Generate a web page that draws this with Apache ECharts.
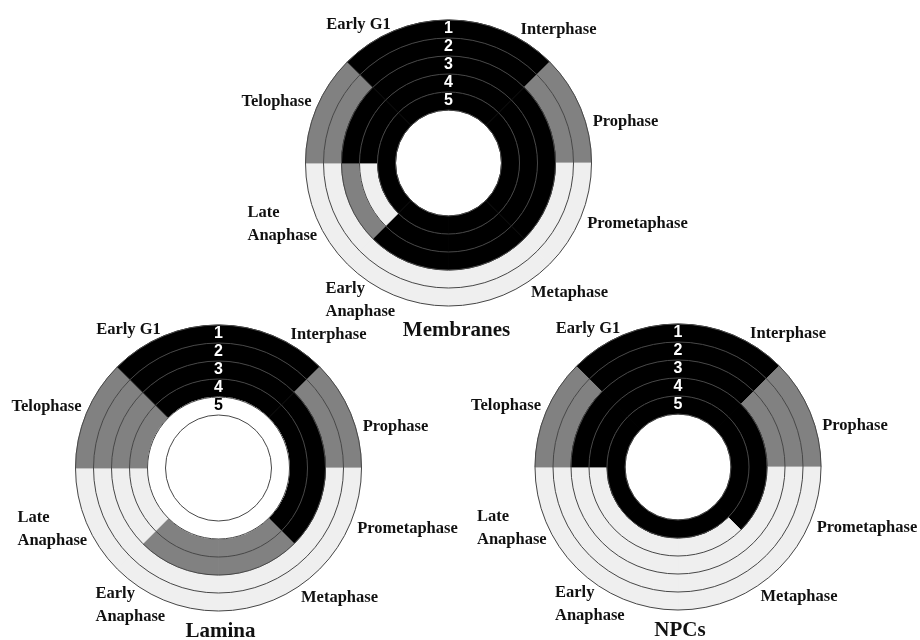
<!DOCTYPE html>
<html>
<head>
<meta charset="utf-8">
<script src="https://cdn.jsdelivr.net/npm/echarts@6/dist/echarts.min.js"></script>
<style>
  html, body { margin: 0; padding: 0; background: #ffffff; }
  #chart { width: 920px; height: 640px; }
</style>
</head>
<body>
<div id="chart"></div>
<script>
// Cell-cycle phases, clockwise from the top
const phases = ['Interphase', 'Prophase', 'Prometaphase', 'Metaphase',
                'Early Anaphase', 'Late Anaphase', 'Telophase', 'Early G1'];
// Ring numbers, outermost first
const rings = ['1', '2', '3', '4', '5'];

// One string per ring (outer to inner), one letter per phase in the order above.
// B = black, G = grey, L = light grey, N = unfilled
const membranes = ['BGLLLLGB', 'BGLLLLGB', 'BBBBBGBB', 'BBBBBLBB', 'BBBBBBBB'];
const lamina    = ['BGLLLLGB', 'BGLLLLGB', 'BBBGGLGB', 'BBBGGLGB', 'NNNNNNNN'];
const npcs      = ['BGLLLLGB', 'BGLLLLGB', 'BGLLLLBB', 'BBBLLLBB', 'BBBBBBBB'];

const titles = ['Membranes', 'Lamina', 'NPCs'];

// ---- layout ----
const panelCenters = [[448.5, 163], [218.5, 468], [678, 467]];
const titleOffsets = [[8, 168], [2, 164], [2, 164]];
const innerRadius = 53;
const outerRadius = 143;

const stateColor = { B: '#000000', G: '#818181', L: '#efefef', N: '#ffffff' };

// phase label placement relative to the panel centre
const phaseLabelLayout = {
  'Interphase':     { dx: 110,  dy: -133, align: 'center' },
  'Prophase':       { dx: 177,  dy: -41,  align: 'center' },
  'Prometaphase':   { dx: 189,  dy: 61,   align: 'center' },
  'Metaphase':      { dx: 121,  dy: 130,  align: 'center' },
  'Early Anaphase': { dx: -123, dy: 137,  align: 'left', text: 'Early\nAnaphase' },
  'Late Anaphase':  { dx: -201, dy: 61,   align: 'left', text: 'Late\nAnaphase' },
  'Telophase':      { dx: -172, dy: -61,  align: 'center' },
  'Early G1':       { dx: -90,  dy: -138, align: 'center' }
};

const panelStates = [membranes, lamina, npcs];

const polar = [], angleAxis = [], radiusAxis = [], series = [], graphic = [];

panelStates.forEach(function (states, p) {
  polar.push({ center: panelCenters[p], radius: [innerRadius, outerRadius] });

  angleAxis.push({
    polarIndex: p, type: 'value', min: 0, max: phases.length,
    startAngle: 90, clockwise: true,
    axisLine: { show: false }, axisTick: { show: false },
    axisLabel: { show: false }, splitLine: { show: false }
  });

  radiusAxis.push({
    polarIndex: p, type: 'category', data: rings, inverse: true, z: 5,
    axisLine: { show: false }, axisTick: { show: false },
    axisLabel: {
      show: true, margin: 0, align: 'center', verticalAlign: 'middle',
      fontFamily: '"Liberation Sans", Arial, sans-serif',
      fontWeight: 'bold', fontSize: 16,
      color: function (value, index) {
        return states[index][0] === 'N' ? '#000000' : '#ffffff';
      }
    },
    splitLine: { show: true, lineStyle: { color: '#474747', width: 1 } }
  });

  // one stacked bar series per phase: every ring gets one angular unit
  phases.forEach(function (phase, j) {
    series.push({
      type: 'bar', name: phase, coordinateSystem: 'polar', polarIndex: p,
      stack: 'panel' + p, barCategoryGap: '0%', silent: true,
      data: rings.map(function (r, k) {
        const c = stateColor[states[k][j]];
        return { value: 1, itemStyle: { color: c, borderColor: c, borderWidth: 0.8 } };
      })
    });
  });

  const c = panelCenters[p];
  phases.forEach(function (phase) {
    const l = phaseLabelLayout[phase];
    graphic.push({
      type: 'text', silent: true,
      style: {
        text: l.text || phase, x: c[0] + l.dx, y: c[1] + l.dy,
        align: l.align, verticalAlign: 'middle', lineHeight: 23,
        font: 'bold 16.5px "Liberation Serif", "Times New Roman", serif',
        fill: '#111111'
      }
    });
  });

  graphic.push({
    type: 'text', silent: true,
    style: {
      text: titles[p], x: c[0] + titleOffsets[p][0], y: c[1] + titleOffsets[p][1],
      align: 'center', verticalAlign: 'middle',
      font: 'bold 21px "Liberation Serif", "Times New Roman", serif',
      fill: '#111111'
    }
  });
});

const chart = echarts.init(document.getElementById('chart'), null, { renderer: 'canvas' });
chart.setOption({
  backgroundColor: '#ffffff',
  animation: false,
  polar: polar,
  angleAxis: angleAxis,
  radiusAxis: radiusAxis,
  series: series,
  graphic: graphic
});
</script>
</body>
</html>
